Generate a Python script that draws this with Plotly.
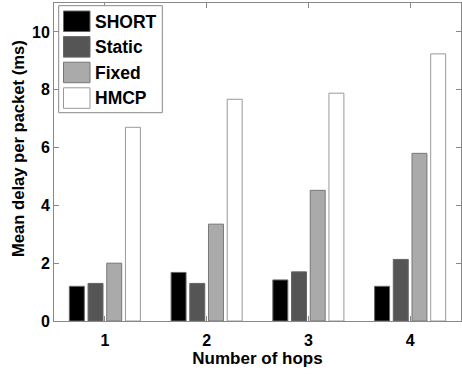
import plotly.graph_objects as go

hops = [1, 2, 3, 4]
series_names = ["SHORT", "Static", "Fixed", "HMCP"]
short_vals = [1.2, 1.68, 1.42, 1.2]
static_vals = [1.3, 1.3, 1.7, 2.13]
fixed_vals = [2.0, 3.35, 4.52, 5.8]
hmcp_vals = [6.7, 7.67, 7.88, 9.24]
y_ticks = [0, 2, 4, 6, 8, 10]

fills = ["#000000", "#555555", "#aaaaaa", "#ffffff"]
edges = ["#666666", "#666666", "#777777", "#999999"]
all_vals = [short_vals, static_vals, fixed_vals, hmcp_vals]

W, H = 462, 376
L, R, T, B = 54, 1, 3, 55
PW, PH = W - L - R, H - T - B

fig = go.Figure()
for name, vals, fc, ec in zip(series_names, all_vals, fills, edges):
    fig.add_trace(go.Bar(x=hops, y=vals, name=name, marker=dict(color=fc, line=dict(color=ec, width=1)),
                         showlegend=False, hoverinfo="skip"))

font = "Liberation Sans, Arial, sans-serif"

def px2x(px):
    return (px - L) / PW

def py2y(py):
    return (H - B - py) / PH

shapes = []
annotations = []
# legend box
shapes.append(dict(type="rect", xref="paper", yref="paper",
                   x0=px2x(58.7), x1=px2x(162.3), y0=py2y(112.7), y1=py2y(5.7),
                   line=dict(color="#888888", width=1), fillcolor="white", layer="above"))
for i, (name, fc, ec) in enumerate(zip(series_names, fills, edges)):
    top = 11 + i * 25.6
    shapes.append(dict(type="rect", xref="paper", yref="paper",
                       x0=px2x(63.5), x1=px2x(90), y0=py2y(top + 20.5), y1=py2y(top),
                       line=dict(color=ec, width=1), fillcolor=fc, layer="above"))
    annotations.append(dict(xref="paper", yref="paper", x=px2x(93), y=py2y(top + 10.5),
                            text="<b>%s</b>" % name, showarrow=False, xanchor="left", yanchor="middle",
                            font=dict(size=17.5, color="black", family=font)))

# y-axis title
annotations.append(dict(xref="paper", yref="paper", x=px2x(18), y=py2y(149),
                        text="<b>Mean delay per packet (ms)</b>", textangle=-90, showarrow=False,
                        xanchor="center", yanchor="middle",
                        font=dict(size=16.6, color="black", family=font)))

fig.update_layout(
    width=W, height=H,
    margin=dict(l=L, r=R, t=T, b=B),
    paper_bgcolor="white", plot_bgcolor="white",
    barmode="group", bargap=0.265, bargroupgap=0.2,
    shapes=shapes, annotations=annotations,
    font=dict(family=font, color="black"),
    xaxis=dict(range=[0.5, 4.5], tickvals=hops, ticktext=["<b>%d</b>" % h for h in hops],
               ticks="inside", ticklen=5, tickcolor="#888888", showline=True, linecolor="#888888",
               linewidth=1, mirror="ticks", showgrid=False, zeroline=False, automargin=False,
               ticklabelstandoff=5,
               tickfont=dict(size=16, color="black"),
               title=dict(text="<b>Number of hops</b>", font=dict(size=17, color="black"), standoff=3)),
    yaxis=dict(range=[0, 11], tickvals=y_ticks, ticktext=["<b>%d</b>" % v for v in y_ticks],
               ticks="inside", ticklen=5, tickcolor="#888888", showline=True, linecolor="#888888",
               linewidth=1, mirror="ticks", showgrid=False, zeroline=False, automargin=False,
               tickfont=dict(size=16, color="black")),
)

fig.write_html("out.html", config={"displayModeBar": False},
               post_script="document.body.style.margin='0';document.body.style.padding='0';")
